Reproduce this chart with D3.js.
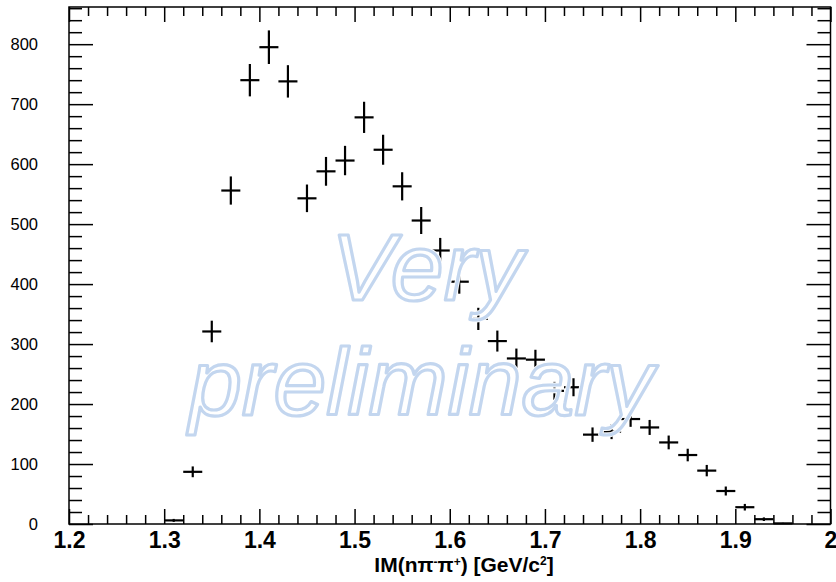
<html>
<head>
<script src="https://cdnjs.cloudflare.com/ajax/libs/d3/7.8.5/d3.min.js"></script>
<style>
  body { margin: 0; background: white; }
  text { font-family: "Liberation Sans", Arial, sans-serif; }
</style>
</head>
<body>
<script>

W = 836;
H = 582;

// bin centres (bin width 0.02 GeV/c^2)
binCenters = [1.31, 1.33, 1.35, 1.37, 1.39, 1.41, 1.43, 1.45, 1.47, 1.49,
              1.51, 1.53, 1.55, 1.57, 1.59, 1.61, 1.63, 1.65, 1.67, 1.69,
              1.71, 1.73, 1.75, 1.77, 1.79, 1.81, 1.83, 1.85, 1.87, 1.89,
              1.91, 1.93, 1.95]
counts = [6, 87, 321, 556, 740, 795, 738, 543, 588, 606,
          678, 624, 563, 506, 456, 404, 342, 305, 276, 274,
          222, 228, 149, 154, 175, 161, 136, 115, 89, 55,
          28, 8, 1]
errors = [2.5, 9, 18, 23.5, 27, 28, 27, 23, 24, 24.5,
          26, 25, 23.5, 22.5, 21, 20, 18.5, 17.5, 16.5, 16.5,
          15, 15, 12, 12.5, 13, 12.5, 11.5, 10.5, 9.5, 7.5,
          5.5, 3, 1]
binHalf = 0.01

xTicks = [1.2, 1.3, 1.4, 1.5, 1.6, 1.7, 1.8, 1.9, 2.0]
xTickLabels = ["1.2", "1.3", "1.4", "1.5", "1.6", "1.7", "1.8", "1.9", "2"]
yTicks = [0, 100, 200, 300, 400, 500, 600, 700, 800]

// plot frame (note: "top" is a reserved window property, so prefix these)
pLeft = 69; pRight = 830.5; pTop = 7; pBottom = 524;

x = d3.scaleLinear().domain([1.2, 2.0]).range([pLeft, pRight]);
y = d3.scaleLinear().domain([0, 862]).range([pBottom, pTop]);

svg = d3.select("body").append("svg")
  .attr("width", W)
  .attr("height", H);

// minor tick positions
xMinor = d3.range(1.2, 2.0001, 0.02).filter(v => Math.abs(v*10 - Math.round(v*10)) > 1e-6);
yMinor = d3.range(0, 862, 20).filter(v => v % 100 != 0);

// bottom axis
svg.append("g")
  .attr("transform", "translate(0," + pBottom + ")")
  .call(d3.axisBottom(x).tickValues(xTicks).tickFormat((d,i) => xTickLabels[i])
        .tickSizeInner(-15).tickSizeOuter(0).tickPadding(8))
  .call(g => g.select(".domain").remove())
  .call(g => g.selectAll("text").attr("font-size", 23).attr("font-weight", "bold").attr("fill", "black"));
svg.append("g")
  .attr("transform", "translate(0," + pBottom + ")")
  .call(d3.axisBottom(x).tickValues(xMinor).tickFormat("").tickSizeInner(-9).tickSizeOuter(0))
  .call(g => g.select(".domain").remove());

// top axis (mirror)
svg.append("g")
  .attr("transform", "translate(0," + pTop + ")")
  .call(d3.axisTop(x).tickValues(xTicks).tickFormat("").tickSizeInner(-15).tickSizeOuter(0))
  .call(g => g.select(".domain").remove());
svg.append("g")
  .attr("transform", "translate(0," + pTop + ")")
  .call(d3.axisTop(x).tickValues(xMinor).tickFormat("").tickSizeInner(-9).tickSizeOuter(0))
  .call(g => g.select(".domain").remove());

// left axis
svg.append("g")
  .attr("transform", "translate(" + pLeft + ",0)")
  .call(d3.axisLeft(y).tickValues(yTicks).tickSizeInner(-24).tickSizeOuter(0).tickPadding(31))
  .call(g => g.select(".domain").remove())
  .call(g => g.selectAll("text").attr("font-size", 16.5).attr("fill", "black"));
svg.append("g")
  .attr("transform", "translate(" + pLeft + ",0)")
  .call(d3.axisLeft(y).tickValues(yMinor).tickFormat("").tickSizeInner(-13).tickSizeOuter(0))
  .call(g => g.select(".domain").remove());

// right axis (mirror)
svg.append("g")
  .attr("transform", "translate(" + pRight + ",0)")
  .call(d3.axisRight(y).tickValues(yTicks).tickFormat("").tickSizeInner(-24).tickSizeOuter(0))
  .call(g => g.select(".domain").remove());
svg.append("g")
  .attr("transform", "translate(" + pRight + ",0)")
  .call(d3.axisRight(y).tickValues(yMinor).tickFormat("").tickSizeInner(-13).tickSizeOuter(0))
  .call(g => g.select(".domain").remove());

svg.selectAll(".tick line").attr("stroke", "black").attr("stroke-width", 1.5);

// frame
svg.append("rect")
  .attr("x", pLeft).attr("y", pTop)
  .attr("width", pRight - pLeft).attr("height", pBottom - pTop)
  .attr("fill", "none")
  .attr("stroke", "black")
  .attr("stroke-width", 1.5);

// data points with error bars
data = binCenters.map((c, i) => ({c: c, v: counts[i], e: errors[i]}));

pts = svg.append("g").selectAll("g")
  .data(data)
  .enter()
  .append("g");

pts.append("line")
  .attr("x1", d => x(d.c - binHalf))
  .attr("x2", d => x(d.c + binHalf))
  .attr("y1", d => y(d.v))
  .attr("y2", d => y(d.v))
  .attr("stroke", "black")
  .attr("stroke-width", 2.2);

pts.append("line")
  .attr("x1", d => x(d.c))
  .attr("x2", d => x(d.c))
  .attr("y1", d => y(d.v - d.e))
  .attr("y2", d => y(d.v + d.e))
  .attr("stroke", "black")
  .attr("stroke-width", 2.2);

// watermark: hollow outline letters with a thin white halo
wmWords = [{t: "Very", x: 331, y: 300}, {t: "preliminary", x: 189, y: 415}];
[["white", 5], ["#c3d6ef", 3.2]].forEach(function(s){
  svg.append("g")
    .attr("font-style", "italic")
    .attr("font-size", 95)
    .attr("fill", "none")
    .attr("stroke", s[0])
    .attr("stroke-width", s[1])
    .attr("stroke-linejoin", "round")
    .selectAll("text")
    .data(wmWords)
    .enter()
    .append("text")
    .attr("x", d => d.x)
    .attr("y", d => d.y)
    .text(d => d.t);
});

// axis title
title = svg.append("text")
  .attr("x", 464)
  .attr("y", 572)
  .attr("text-anchor", "middle")
  .attr("font-size", 21)
  .attr("font-weight", "bold")
  .attr("fill", "black");
title.append("tspan").text("IM(nπ");
title.append("tspan").attr("font-size", 12).attr("dy", -6).text("-");
title.append("tspan").attr("dy", 6).text("π");
title.append("tspan").attr("font-size", 12).attr("dy", -6).text("+");
title.append("tspan").attr("dy", 6).text(") [GeV/c");
title.append("tspan").attr("font-size", 12).attr("dy", -7).text("2");
title.append("tspan").attr("dy", 7).text("]");

</script>
</body>
</html>
